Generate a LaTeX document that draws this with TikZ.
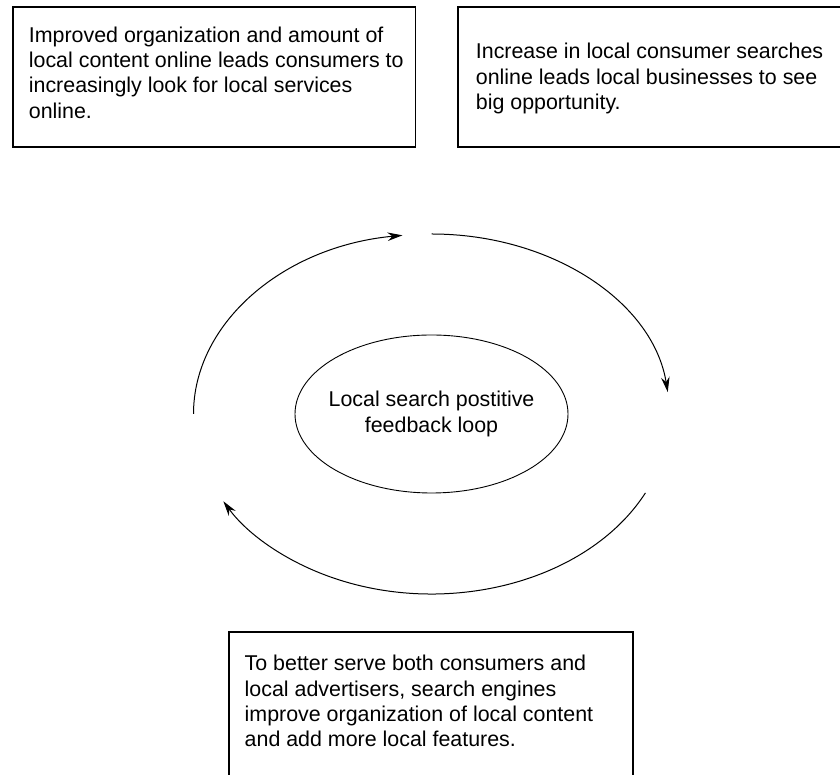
\documentclass[tikz,border=0pt]{standalone}
\usepackage{fontspec}
\setmainfont{Liberation Sans}
\usepackage{tikz}
\usetikzlibrary{positioning,arrows.meta,shapes.geometric}

\begin{document}
\begin{tikzpicture}[x=1pt, y=1pt,
    panel/.style={draw, line width=1.1pt},
    blurb/.style={anchor=north west, inner sep=0pt, align=left, font=\fontsize{21.4}{25.3}\selectfont},
    loop/.style={line width=1pt, -{Stealth[length=15pt, width=8.5pt]}}]
    \useasboundingbox (0,0) rectangle (840,775);
    \clip (0,0) rectangle (840,775);
    % Boxes
    \draw[panel] (13,768) rectangle (415.5,628);
    \draw[panel] (458,768) rectangle (870,628);
    \draw[panel] (229,143) rectangle (633,-30);
    \node[blurb] (organize) at (28.7,748.3) {Improved organization and amount of\\local content online leads consumers to\\increasingly look for local services\\online.};
    \node[blurb] (demand) at (475.7,731.7) {Increase in local consumer searches\\online leads local businesses to see\\big opportunity.};
    \node[blurb] (engines) at (244.5,120) {To better serve both consumers and\\local advertisers, search engines\\improve organization of local content\\and add more local features.};
    % Loop
    \node[draw, ellipse, line width=0.9pt, inner xsep=-20pt, inner ysep=0pt, minimum width=273pt, minimum height=158pt, align=center,
      font=\fontsize{21.4}{25.3}\selectfont] (hub) at (431.5,361) {Local search postitive\\feedback loop};
    \coordinate (a1) at ([shift={(180:238 and 180)}]hub.center);
    \coordinate (b1) at ([shift={(90:238 and 180)}]hub.center);
    \coordinate (c1) at ([shift={(-26:238 and 180)}]hub.center);
    \draw[loop] (a1) arc[start angle=180, end angle=97, x radius=238, y radius=180];
    \draw[loop] (b1) arc[start angle=90, end angle=7, x radius=238, y radius=180];
    \draw[loop] (c1) arc[start angle=-26, end angle=-151, x radius=238, y radius=180];
\end{tikzpicture}
\end{document}
